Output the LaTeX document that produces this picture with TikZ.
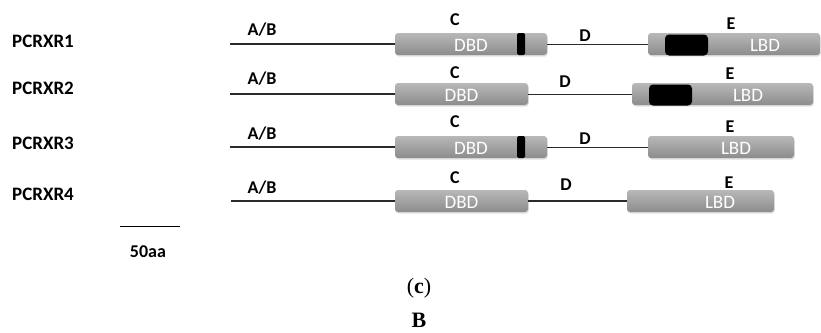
\documentclass[tikz,border=0pt]{standalone}
\usepackage{fontspec}
\setmainfont{Carlito}
\newfontfamily\capfont{Liberation Serif}
\usetikzlibrary{shadows}
\definecolor{boxtop}{HTML}{B8B8B8}
\definecolor{boxbot}{HTML}{8C8C8C}
\definecolor{lncol}{HTML}{2A2A2A}
\begin{document}
\begin{tikzpicture}[x=1pt,y=-1pt,
  lbl/.style={font=\bfseries\fontsize{18}{20}\selectfont, inner sep=0pt, text height=11.6pt, text depth=0pt},
  prot/.style={font=\bfseries\fontsize{19}{21}\selectfont, inner sep=0pt, text height=12.2pt, text depth=0pt, anchor=west},
  dom/.style={rectangle, rounded corners=3pt, minimum height=22pt, inner sep=0pt, top color=boxtop, bottom color=boxbot,
    drop shadow={shadow xshift=0.8pt, shadow yshift=-1.5pt, opacity=0.25}},
  dtext/.style={font=\fontsize{19}{21}\selectfont, text=white, inner sep=0pt, text height=12.2pt, text depth=0pt},
  blk/.style={rectangle, rounded corners=4pt, fill=black, minimum height=21pt, minimum width=43pt, inner sep=0pt},
  barmark/.style={rectangle, rounded corners=1.5pt, fill=black, minimum height=22pt, minimum width=8pt, inner sep=0pt},
  ln/.style={draw=lncol, line width=1.2pt},
  capt/.style={font=\capfont\fontsize{22}{24}\selectfont, inner sep=0pt}]
\useasboundingbox (0,0) rectangle (821,332);

% ---------- Row 1 ----------
\node[prot] (p1) at (12,41) {PCRXR1};
\coordinate (s1) at (230,44);
\node[dom, minimum width=152pt] (dbd1) at (471,44) {};
\node[barmark] (bar1) at (521,44) {};
\node[dtext] (dt1) at (471,45) {DBD};
\node[dom, minimum width=172pt] (lbd1) at (734,44) {};
\node[blk] (bk1) at (686.5,45) {};
\node[dtext] (lt1) at (765,45) {LBD};
\draw[ln] (s1) -- (dbd1.west);
\draw[ln, line width=1pt] (dbd1.east) -- (lbd1.west);
\node[lbl] (ab1) at (262,30) {A/B};
\node[lbl] (c1) at (455,20) {C};
\node[lbl] (d1) at (585,36) {D};
\node[lbl] (e1) at (731,24) {E};

% ---------- Row 2 ----------
\node[prot] (p2) at (12,88) {PCRXR2};
\coordinate (s2) at (230,94);
\node[dom, minimum width=133pt] (dbd2) at (461.5,94) {};
\node[dtext] (dt2) at (461.5,95) {DBD};
\node[dom, minimum width=181pt] (lbd2) at (722.5,94) {};
\node[blk] (bk2) at (670.5,95) {};
\node[dtext] (lt2) at (748,95) {LBD};
\draw[ln] (s2) -- (dbd2.west);
\draw[ln, line width=1pt] (dbd2.east) -- (lbd2.west);
\node[lbl] (ab2) at (262,79) {A/B};
\node[lbl] (c2) at (455,73) {C};
\node[lbl] (d2) at (565,81.5) {D};
\node[lbl] (e2) at (730,74) {E};

% ---------- Row 3 ----------
\node[prot] (p3) at (12,143) {PCRXR3};
\coordinate (s3) at (230,147);
\node[dom, minimum width=152pt] (dbd3) at (471,147) {};
\node[barmark] (bar3) at (521,147) {};
\node[dtext] (dt3) at (471,148) {DBD};
\node[dom, minimum width=146pt] (lbd3) at (721,147) {};
\node[dtext] (lt3) at (736,148) {LBD};
\draw[ln] (s3) -- (dbd3.west);
\draw[ln, line width=1pt] (dbd3.east) -- (lbd3.west);
\node[lbl] (ab3) at (262,134) {A/B};
\node[lbl] (c3) at (455,122) {C};
\node[lbl] (d3) at (585,139) {D};
\node[lbl] (e3) at (730,127) {E};

% ---------- Row 4 ----------
\node[prot] (p4) at (12,194) {PCRXR4};
\coordinate (s4) at (231,201);
\node[dom, minimum width=133pt] (dbd4) at (461.5,201) {};
\node[dtext] (dt4) at (461.5,202) {DBD};
\node[dom, minimum width=147pt] (lbd4) at (700.5,201) {};
\node[dtext] (lt4) at (720,202) {LBD};
\draw[ln] (s4) -- (dbd4.west);
\draw[ln, line width=1.7pt] (dbd4.east) -- (lbd4.west);
\node[lbl] (ab4) at (262,188) {A/B};
\node[lbl] (c4) at (455,177.5) {C};
\node[lbl] (d4) at (566,185) {D};
\node[lbl] (e4) at (729,183) {E};

% ---------- scale bar ----------
\coordinate (sb1) at (120,226.7);
\coordinate (sb2) at (180,226.7);
\draw[draw=black, line width=1.5pt] (sb1) -- (sb2);
\node[lbl] (sbl) at (148,251.5) {50aa};

% ---------- caption ----------
\node[capt] (cap) at (419,288) {(\textbf{c})};
\node[capt, font=\capfont\bfseries\fontsize{22}{24}\selectfont] (capB) at (419,320) {B};
\end{tikzpicture}
\end{document}
